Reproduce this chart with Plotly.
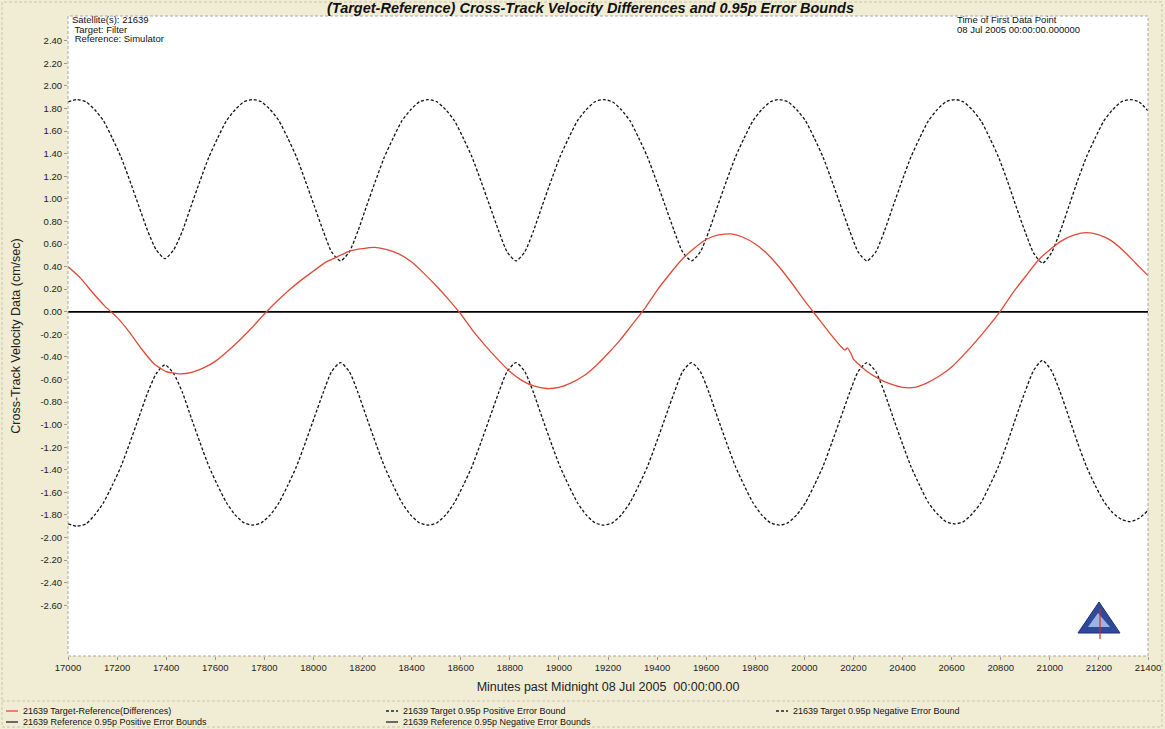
import plotly.graph_objects as go

# ---------------- data ----------------
DIFF_T = [17000, 17050, 17100, 17150, 17200, 17250, 17300, 17350, 17400, 17450,
          17500, 17550, 17600, 17650, 17700, 17750, 17800, 17850, 17900, 17950,
          18000, 18050, 18100, 18150, 18200, 18250, 18300, 18350, 18400, 18450,
          18500, 18550, 18600, 18650, 18700, 18750, 18800, 18850, 18900, 18950,
          19000, 19050, 19100, 19150, 19200, 19250, 19300, 19350, 19400, 19450,
          19500, 19550, 19600, 19650, 19700, 19750, 19800, 19850, 19900, 19950,
          20000, 20050, 20100, 20150, 20165, 20175, 20190, 20200, 20250, 20300,
          20350, 20400, 20450, 20500, 20550, 20600, 20650, 20700, 20750, 20800,
          20850, 20900, 20950, 21000, 21050, 21100, 21150, 21200, 21250, 21300,
          21350, 21400]
DIFF_V = [0.40, 0.30, 0.17, 0.05, -0.05, -0.18, -0.33, -0.46, -0.53, -0.55,
          -0.54, -0.50, -0.44, -0.35, -0.25, -0.14, -0.02, 0.09, 0.19, 0.28,
          0.36, 0.44, 0.49, 0.54, 0.56, 0.57, 0.55, 0.51, 0.44, 0.34,
          0.23, 0.11, -0.02, -0.17, -0.30, -0.42, -0.53, -0.61, -0.66, -0.68,
          -0.67, -0.63, -0.57, -0.48, -0.37, -0.25, -0.11, 0.03, 0.19, 0.33,
          0.46, 0.56, 0.64, 0.68, 0.69, 0.66, 0.60, 0.51, 0.39, 0.25,
          0.10, -0.04, -0.18, -0.31, -0.34, -0.32, -0.37, -0.42, -0.52, -0.59,
          -0.64, -0.67, -0.67, -0.63, -0.57, -0.49, -0.38, -0.26, -0.13, 0.01,
          0.17, 0.31, 0.45, 0.55, 0.63, 0.68, 0.70, 0.68, 0.63, 0.54,
          0.43, 0.32]

BOUND_T = [17000, 17037,
           17073, 17109, 17145, 17180, 17216, 17252, 17288, 17324, 17359, 17395,
           17431, 17467, 17502, 17538, 17574, 17610, 17645, 17681, 17717, 17753,
           17788, 17824, 17860, 17895, 17931, 17967, 18003, 18039, 18074, 18110,
           18146, 18182, 18217, 18253, 18289, 18325, 18360, 18396, 18432, 18468,
           18503, 18539, 18575, 18610, 18646, 18682, 18718, 18754, 18789, 18825,
           18861, 18897, 18932, 18968, 19004, 19040, 19075, 19111, 19147, 19183,
           19218, 19254, 19290, 19325, 19361, 19397, 19433, 19469, 19504, 19540,
           19576, 19612, 19647, 19683, 19719, 19755, 19790, 19826, 19862, 19898,
           19933, 19969, 20005, 20040, 20076, 20112, 20148, 20184, 20219, 20255,
           20291, 20327, 20362, 20398, 20434, 20470, 20505, 20541, 20577, 20613,
           20648, 20684, 20720, 20755, 20791, 20827, 20863, 20899, 20934, 20970,
           21006, 21042, 21077, 21113, 21149, 21185, 21220, 21256, 21292, 21328,
           21363, 21400]

TARGET_POS = [1.86, 1.88,
              1.86, 1.79, 1.69, 1.54, 1.37, 1.16, 0.94, 0.72, 0.55, 0.47,
              0.55, 0.72, 0.94, 1.16, 1.37, 1.54, 1.69, 1.79, 1.86, 1.88,
              1.86, 1.79, 1.69, 1.54, 1.37, 1.16, 0.94, 0.72, 0.53, 0.45,
              0.53, 0.72, 0.94, 1.16, 1.37, 1.54, 1.69, 1.79, 1.86, 1.88,
              1.86, 1.79, 1.69, 1.54, 1.37, 1.16, 0.94, 0.72, 0.53, 0.45,
              0.53, 0.72, 0.94, 1.16, 1.37, 1.54, 1.69, 1.79, 1.86, 1.88,
              1.86, 1.79, 1.69, 1.54, 1.37, 1.16, 0.94, 0.72, 0.53, 0.45,
              0.53, 0.72, 0.94, 1.16, 1.37, 1.54, 1.69, 1.79, 1.86, 1.88,
              1.86, 1.79, 1.69, 1.54, 1.37, 1.16, 0.94, 0.72, 0.53, 0.45,
              0.53, 0.72, 0.94, 1.16, 1.37, 1.54, 1.69, 1.79, 1.86, 1.88,
              1.86, 1.79, 1.69, 1.54, 1.37, 1.16, 0.93, 0.71, 0.52, 0.43,
              0.52, 0.71, 0.93, 1.16, 1.37, 1.54, 1.69, 1.79, 1.86, 1.88,
              1.86, 1.78]

TARGET_NEG = [-1.88, -1.90,
              -1.88, -1.80, -1.69, -1.54, -1.37, -1.16, -0.94, -0.72, -0.55, -0.47,
              -0.55, -0.72, -0.94, -1.16, -1.37, -1.54, -1.69, -1.80, -1.87, -1.89,
              -1.87, -1.80, -1.69, -1.54, -1.37, -1.16, -0.94, -0.72, -0.53, -0.45,
              -0.53, -0.72, -0.94, -1.16, -1.37, -1.54, -1.69, -1.80, -1.87, -1.89,
              -1.87, -1.80, -1.69, -1.54, -1.37, -1.16, -0.94, -0.72, -0.53, -0.45,
              -0.53, -0.72, -0.94, -1.16, -1.37, -1.54, -1.69, -1.80, -1.87, -1.89,
              -1.87, -1.80, -1.69, -1.54, -1.37, -1.16, -0.94, -0.72, -0.53, -0.45,
              -0.53, -0.72, -0.94, -1.16, -1.37, -1.54, -1.69, -1.80, -1.87, -1.89,
              -1.87, -1.80, -1.69, -1.54, -1.37, -1.16, -0.94, -0.72, -0.53, -0.45,
              -0.53, -0.72, -0.94, -1.16, -1.37, -1.54, -1.69, -1.79, -1.86, -1.88,
              -1.86, -1.79, -1.69, -1.54, -1.37, -1.16, -0.93, -0.71, -0.52, -0.43,
              -0.52, -0.71, -0.93, -1.16, -1.37, -1.54, -1.68, -1.78, -1.84, -1.86,
              -1.83, -1.76]

REF_T = [17000, 21400]
REF_POS = [0.0, 0.0]
REF_NEG = [0.0, 0.0]

X_TICKS = [17000, 17200, 17400, 17600, 17800, 18000, 18200, 18400, 18600, 18800,
           19000, 19200, 19400, 19600, 19800, 20000, 20200, 20400, 20600, 20800,
           21000, 21200, 21400]
Y_TICKS = [2.4, 2.2, 2.0, 1.8, 1.6, 1.4, 1.2, 1.0, 0.8, 0.6, 0.4, 0.2, 0.0,
           -0.2, -0.4, -0.6, -0.8, -1.0, -1.2, -1.4, -1.6, -1.8, -2.0, -2.2, -2.4, -2.6]

TITLE = "(Target-Reference) Cross-Track Velocity Differences and 0.95p Error Bounds"
X_TITLE = "Minutes past Midnight 08 Jul 2005  00:00:00.00"
Y_TITLE = "Cross-Track Velocity Data (cm/sec)"
INFO_LEFT = ["Satellite(s): 21639", " Target: Filter", " Reference: Simulator"]
INFO_RIGHT = ["Time of First Data Point", "08 Jul 2005 00:00:00.000000"]
LEGEND = [
    ("21639 Target-Reference(Differences)", "red", "solid", 0, 0),
    ("21639 Target 0.95p Positive Error Bound", "black", "dash", 1, 0),
    ("21639 Target 0.95p Negative Error Bound", "black", "dash", 2, 0),
    ("21639 Reference 0.95p Positive Error Bounds", "black", "solid", 0, 1),
    ("21639 Reference 0.95p Negative Error Bounds", "black", "solid", 1, 1),
]

# ---------------- layout geometry ----------------
W, H = 1165, 729
L, R, T, B = 68, 17, 16, 73
PW, PH = W - L - R, H - T - B
RED = "#de4a38"
BG = "#f1edd5"
FONT = "Liberation Sans, Arial, sans-serif"


def px(x):
    return (x - L) / PW


def py(y):
    return (H - B - y) / PH


fig = go.Figure()
fig.add_trace(go.Scatter(x=REF_T, y=REF_POS, mode="lines",
                         line=dict(color="black", width=1.3), showlegend=False))
fig.add_trace(go.Scatter(x=REF_T, y=REF_NEG, mode="lines",
                         line=dict(color="black", width=1.3), showlegend=False))
fig.add_trace(go.Scatter(x=BOUND_T, y=TARGET_POS, mode="lines",
                         line=dict(color="#111111", width=1.3, dash="3px,2px",
                                   shape="spline", smoothing=0.6),
                         showlegend=False))
fig.add_trace(go.Scatter(x=BOUND_T, y=TARGET_NEG, mode="lines",
                         line=dict(color="#111111", width=1.3, dash="3px,2px",
                                   shape="spline", smoothing=0.6),
                         showlegend=False))
fig.add_trace(go.Scatter(x=DIFF_T, y=DIFF_V, mode="lines",
                         line=dict(color=RED, width=1.3, shape="spline", smoothing=0.5),
                         showlegend=False))

shapes = []
# plot border
shapes.append(dict(type="rect", xref="paper", yref="paper", x0=0, x1=1, y0=0, y1=1,
                   line=dict(color="#a8a8a0", width=1, dash="3px,2px"), layer="above"))
# outer border
shapes.append(dict(type="rect", xref="paper", yref="paper", x0=px(2), x1=px(1162),
                   y0=py(727), y1=py(2),
                   line=dict(color="#c8c4b0", width=1, dash="3px,2px")))
# separator above legend
shapes.append(dict(type="line", xref="paper", yref="paper", x0=px(2), x1=px(1162),
                   y0=py(701), y1=py(701),
                   line=dict(color="#c8c4b0", width=1, dash="3px,2px")))

annotations = []
annotations.append(dict(text="<b><i>%s</i></b>" % TITLE, xref="paper", yref="paper",
                        x=px(590), y=py(8), showarrow=False, xanchor="center",
                        yanchor="middle", font=dict(family=FONT, size=14.5, color="#111")))
for i, s in enumerate(INFO_LEFT):
    annotations.append(dict(text=s, xref="paper", yref="paper", x=px(70), y=py(20 + 9.5 * i),
                            showarrow=False, xanchor="left", yanchor="middle",
                            font=dict(family=FONT, size=9.5, color="#111")))
for i, s in enumerate(INFO_RIGHT):
    annotations.append(dict(text=s, xref="paper", yref="paper", x=px(955), y=py(20 + 10 * i),
                            showarrow=False, xanchor="left", yanchor="middle",
                            font=dict(family=FONT, size=9.5, color="#111")))

col_x = [6, 386, 776]
row_y = [711, 722]
for name, color, dash, c, r in LEGEND:
    x0 = col_x[c]
    yy = row_y[r]
    shapes.append(dict(type="line", xref="paper", yref="paper", x0=px(x0), x1=px(x0 + 12),
                       y0=py(yy), y1=py(yy),
                       line=dict(color=RED if color == "red" else "#222",
                                 width=1.3, dash="3px,2px" if dash == "dash" else "solid")))
    annotations.append(dict(text=name, xref="paper", yref="paper", x=px(x0 + 15), y=py(yy),
                            showarrow=False, xanchor="left", yanchor="middle",
                            font=dict(family=FONT, size=9, color="#111")))

# small triangular logo in the lower right corner
shapes.append(dict(type="path", xref="paper", yref="paper",
                   path="M %f %f L %f %f L %f %f Z" % (px(1099), py(602), px(1078), py(633),
                                                       px(1120), py(633)),
                   fillcolor="#2f4a9a", line=dict(color="#1d2f70", width=1)))
shapes.append(dict(type="path", xref="paper", yref="paper",
                   path="M %f %f L %f %f L %f %f Z" % (px(1098), py(613), px(1088), py(627),
                                                       px(1110), py(627)),
                   fillcolor="#9fb3e0", line=dict(width=0)))
shapes.append(dict(type="line", xref="paper", yref="paper", x0=px(1100), x1=px(1100),
                   y0=py(609), y1=py(639), line=dict(color="#d03020", width=1.2)))

fig.update_layout(
    width=W, height=H,
    margin=dict(l=L, r=R, t=T, b=B),
    paper_bgcolor=BG, plot_bgcolor="white",
    showlegend=False,
    shapes=shapes, annotations=annotations,
    font=dict(family=FONT, color="#222"),
    xaxis=dict(range=[17000, 21400], tickvals=X_TICKS, ticktext=[str(v) for v in X_TICKS],
               showgrid=False, zeroline=False, showline=False, ticks="outside",
               ticklen=3, tickcolor="#999", tickfont=dict(family=FONT, size=9.5, color="#222"),
               automargin=False,
               title=dict(text=X_TITLE, font=dict(family=FONT, size=12.5, color="#222"),
                          standoff=9)),
    yaxis=dict(range=[-3.05, 2.62], tickvals=Y_TICKS, ticktext=["%.2f" % v for v in Y_TICKS],
               showgrid=False, zeroline=False, showline=False, ticks="outside",
               ticklen=3, tickcolor="#999", tickfont=dict(family=FONT, size=9.5, color="#222"),
               automargin=False,
               title=dict(text=Y_TITLE, font=dict(family=FONT, size=12.5, color="#222"),
                          standoff=17)),
)

fig.write_html("out.html",
               config={"displayModeBar": False, "staticPlot": True},
               post_script="document.body.style.margin='0';document.body.style.padding='0';")
